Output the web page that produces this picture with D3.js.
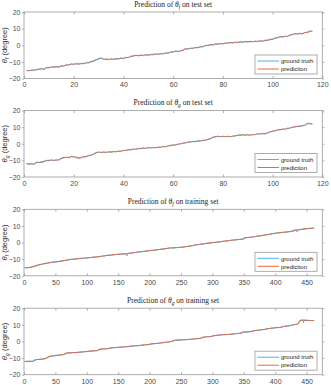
<!DOCTYPE html>
<html><head><meta charset="utf-8">
<script src="https://cdn.jsdelivr.net/npm/d3@7"></script>
<style>body{margin:0;background:#fff}svg{display:block}</style>
</head><body><svg id="c" width="331" height="385"></svg>
<script>
const yTicks = [-20, -10, 0, 10, 20];
const testXTicks = [0, 20, 40, 60, 80, 100, 120];
const trainXTicks = [0, 50, 100, 150, 200, 250, 300, 350, 400, 450];
const legendLabels = ["ground truth", "prediction"];
const angleNames = ["f", "g", "f", "g"];
const setNames = ["test set", "test set", "training set", "training set"];

const gtTestF = [-15.3,-15.2,-15.1,-14.9,-14.8,-14.3,-14.2,-14.4,-13.6,-13.4,
-13.2,-13.0,-13.0,-13.0,-12.6,-12.3,-12.0,-11.7,-11.4,-11.3,
-11.3,-11.2,-11.1,-10.9,-10.7,-10.4,-10.0,-9.4,-8.8,-8.0,
-7.8,-8.3,-8.5,-8.4,-8.4,-8.3,-8.2,-8.1,-7.9,-7.8,
-7.5,-7.2,-6.8,-6.3,-6.2,-6.2,-6.1,-6.0,-5.9,-5.8,
-5.7,-5.5,-5.4,-5.3,-5.2,-5.0,-4.8,-4.6,-4.2,-3.9,
-3.7,-3.6,-3.5,-2.8,-2.2,-2.1,-2.0,-1.7,-1.5,-1.3,
-1.0,-0.7,-0.3,0.0,0.2,0.4,0.6,0.8,0.9,1.0,
1.2,1.4,1.5,1.6,1.7,1.8,1.9,2.0,2.1,2.2,
2.2,2.3,2.3,2.4,2.5,2.6,2.8,3.1,3.4,3.7,
4.2,4.7,5.0,5.2,5.3,5.4,6.0,6.6,6.8,6.9,
7.0,7.1,7.5,7.9,8.3,8.6];
const predTestF = [-15.0,-15.4,-14.9,-15.1,-14.5,-14.6,-13.9,-14.7,-13.3,-13.7,
-12.9,-13.3,-12.7,-13.2,-12.3,-12.6,-11.6,-12.0,-11.1,-11.6,
-11.0,-11.5,-10.8,-11.2,-10.4,-10.7,-9.6,-9.8,-8.6,-8.4,
-7.5,-8.6,-8.2,-8.7,-8.1,-8.6,-7.9,-8.4,-7.6,-8.1,
-7.2,-7.5,-6.5,-6.6,-5.9,-6.5,-5.8,-6.3,-5.6,-6.1,
-5.4,-5.8,-5.1,-5.6,-4.9,-5.3,-4.5,-4.9,-3.9,-4.2,
-3.4,-3.9,-3.2,-3.1,-1.9,-2.4,-1.7,-2.0,-1.2,-1.6,
-0.7,-1.0,0.0,-0.3,0.5,0.1,0.9,0.5,1.2,0.7,
1.5,1.1,1.8,1.3,2.0,1.5,2.2,1.7,2.4,1.9,
2.5,2.0,2.6,2.1,2.8,2.3,3.1,2.8,3.7,3.4,
4.5,4.4,5.3,4.9,5.6,5.1,6.3,6.3,7.1,6.6,
7.3,6.8,7.8,7.6,8.6,8.3];

const gtTestG = [-12.0,-12.1,-12.2,-12.2,-11.3,-11.2,-11.2,-10.6,-10.2,-10.0,
-9.9,-9.9,-9.9,-9.6,-8.9,-8.2,-8.3,-8.2,-7.8,-7.8,
-8.0,-8.3,-8.1,-7.9,-7.6,-7.2,-6.8,-6.3,-5.3,-5.1,
-5.1,-5.1,-5.1,-5.0,-4.9,-4.8,-4.7,-4.6,-4.4,-4.1,
-3.9,-3.7,-3.5,-3.3,-3.2,-3.0,-2.8,-2.7,-2.6,-2.4,
-2.4,-2.4,-2.3,-2.1,-2.0,-1.8,-1.7,-1.3,-1.0,-0.8,
-0.6,-0.3,0.0,0.3,0.6,0.9,1.2,1.3,1.4,1.6,
1.8,2.0,2.2,2.6,3.2,3.8,4.3,4.4,4.4,4.4,
4.4,4.4,4.4,4.5,4.8,5.1,5.2,5.3,5.3,5.3,
5.3,5.4,5.6,5.9,6.0,6.1,6.1,6.5,7.2,7.5,
7.8,8.3,8.5,8.7,8.9,9.2,9.5,9.9,10.2,10.4,
10.6,10.7,11.3,12.0,12.0,11.8];
const predTestG = [-11.8,-12.3,-12.0,-12.4,-11.0,-11.5,-10.9,-10.9,-9.9,-10.3,
-9.7,-10.1,-9.6,-9.9,-8.6,-8.5,-8.0,-8.5,-7.5,-8.0,
-8.4,-9.0,-8.5,-7.7,-7.9,-6.9,-7.1,-6.0,-5.7,-4.9,
-5.4,-4.9,-5.3,-4.8,-5.2,-4.6,-5.0,-4.3,-4.7,-3.9,
-4.1,-3.5,-3.8,-3.0,-3.4,-2.8,-3.0,-2.5,-2.9,-2.2,
-2.6,-2.1,-2.6,-1.9,-2.3,-1.5,-2.0,-1.1,-1.3,-0.6,
-0.8,-0.1,-0.2,0.5,0.4,1.1,1.0,1.5,1.2,1.8,
1.6,2.2,2.0,2.8,3.0,4.0,4.1,4.6,4.2,4.6,
4.2,4.6,4.2,4.7,4.6,5.3,5.0,5.5,5.1,5.5,
5.1,5.6,5.4,6.1,5.8,6.3,5.9,6.7,7.0,7.7,
7.6,8.5,8.3,8.9,8.7,9.4,9.3,10.1,10.0,10.6,
10.4,10.9,11.1,12.4,12.2,11.9];

const gtTrainF = [-15.2,-15.2,-15.2,-15.1,-15.1,-15.1,-15.1,-15.0,-15.0,-15.0,
-14.8,-14.8,-14.7,-14.6,-14.5,-14.4,-14.3,-14.2,-14.0,-14.0,
-13.7,-13.6,-13.5,-13.4,-13.3,-13.2,-13.2,-13.1,-13.0,-12.9,
-12.8,-12.8,-12.7,-12.6,-12.5,-12.5,-12.4,-12.3,-12.2,-12.2,
-12.0,-12.0,-12.0,-11.9,-11.9,-11.8,-11.8,-11.8,-11.7,-11.7,
-11.6,-11.6,-11.5,-11.5,-11.4,-11.4,-11.3,-11.3,-11.2,-11.2,
-11.0,-11.0,-10.9,-10.9,-10.8,-10.7,-10.7,-10.6,-10.5,-10.5,
-10.3,-10.3,-10.2,-10.2,-10.1,-10.1,-10.1,-10.0,-10.0,-10.0,
-9.9,-9.9,-9.8,-9.8,-9.8,-9.7,-9.7,-9.7,-9.6,-9.6,
-9.5,-9.5,-9.5,-9.4,-9.4,-9.4,-9.4,-9.3,-9.3,-9.3,
-9.2,-9.2,-9.1,-9.1,-9.0,-9.0,-9.0,-8.9,-8.9,-8.9,
-8.8,-8.8,-8.7,-8.7,-8.7,-8.6,-8.6,-8.6,-8.5,-8.5,
-8.4,-8.3,-8.3,-8.2,-8.2,-8.1,-8.1,-8.0,-8.0,-7.9,
-7.8,-7.8,-7.7,-7.7,-7.7,-7.6,-7.6,-7.6,-7.5,-7.5,
-7.4,-7.4,-7.3,-7.3,-7.3,-7.2,-7.2,-7.2,-7.1,-7.1,
-7.0,-7.0,-7.0,-7.0,-6.9,-6.9,-6.9,-6.9,-6.8,-6.8,
-6.7,-6.7,-6.7,-6.6,-6.6,-6.6,-6.5,-6.5,-6.4,-6.4,
-6.3,-6.3,-6.2,-6.2,-6.1,-6.0,-6.0,-5.9,-5.9,-5.8,
-5.7,-5.7,-5.7,-5.6,-5.6,-5.6,-5.5,-5.5,-5.4,-5.4,
-5.3,-5.3,-5.2,-5.2,-5.1,-5.1,-5.0,-5.0,-4.9,-4.9,
-4.8,-4.8,-4.7,-4.7,-4.7,-4.6,-4.6,-4.6,-4.5,-4.5,
-4.4,-4.4,-4.3,-4.3,-4.2,-4.2,-4.1,-4.1,-4.0,-4.0,
-3.9,-3.9,-3.8,-3.8,-3.7,-3.7,-3.6,-3.5,-3.5,-3.4,
-3.3,-3.3,-3.3,-3.3,-3.3,-3.2,-3.2,-3.2,-3.2,-3.2,
-3.1,-3.1,-3.1,-3.0,-3.0,-3.0,-3.0,-2.9,-2.9,-2.9,
-2.8,-2.8,-2.7,-2.7,-2.6,-2.6,-2.5,-2.5,-2.4,-2.4,
-2.3,-2.3,-2.2,-2.2,-2.1,-2.0,-2.0,-1.9,-1.9,-1.8,
-1.6,-1.6,-1.5,-1.5,-1.4,-1.3,-1.3,-1.2,-1.2,-1.1,
-1.0,-1.0,-0.9,-0.9,-0.8,-0.8,-0.7,-0.7,-0.6,-0.6,
-0.5,-0.5,-0.4,-0.4,-0.3,-0.3,-0.2,-0.2,-0.1,-0.1,
0.0,0.0,0.0,0.1,0.1,0.1,0.2,0.2,0.3,0.3,
0.4,0.4,0.5,0.5,0.6,0.6,0.7,0.7,0.8,0.8,
0.9,0.9,1.0,1.0,1.1,1.1,1.2,1.2,1.3,1.3,
1.4,1.4,1.5,1.5,1.5,1.6,1.6,1.6,1.7,1.7,
1.8,1.8,1.8,1.9,1.9,1.9,2.0,2.0,2.2,2.3,
2.8,2.8,2.9,2.9,2.9,3.0,3.0,3.0,3.1,3.1,
3.2,3.2,3.3,3.3,3.4,3.5,3.5,3.6,3.6,3.7,
3.8,3.8,3.9,3.9,4.0,4.0,4.1,4.1,4.2,4.2,
4.4,4.4,4.5,4.5,4.6,4.6,4.7,4.8,4.8,4.9,
5.0,5.0,5.1,5.1,5.2,5.3,5.3,5.4,5.4,5.5,
5.7,5.7,5.7,5.8,5.8,5.8,5.9,5.9,6.0,6.0,
6.1,6.1,6.1,6.2,6.2,6.2,6.3,6.3,6.4,6.4,
6.5,6.5,6.6,6.6,6.7,6.8,6.9,6.9,7.0,7.1,
7.4,7.4,7.5,7.5,7.6,7.6,7.7,7.7,7.8,7.8,
7.9,7.9,8.0,8.0,8.1,8.1,8.2,8.2,8.3,8.3,
8.4,8.4,8.4,8.5,8.5,8.5,8.5,8.6,8.6,8.6,
8.7,8.7];
const predTrainF = [-14.9,-15.3,-15.0,-15.4,-14.8,-15.2,-14.9,-15.3,-14.8,-15.1,
-14.5,-14.9,-14.3,-14.8,-14.1,-14.6,-13.9,-14.4,-13.6,-14.1,
-13.4,-13.8,-13.1,-13.6,-12.9,-13.4,-12.8,-13.3,-12.7,-13.1,
-12.5,-12.9,-12.4,-12.8,-12.2,-12.7,-12.1,-12.5,-11.9,-12.4,
-11.7,-12.2,-11.8,-12.1,-11.6,-12.0,-11.5,-11.9,-11.4,-11.9,
-11.3,-11.8,-11.2,-11.7,-11.1,-11.6,-11.0,-11.5,-10.9,-11.4,
-10.7,-11.2,-10.6,-11.1,-10.5,-10.9,-10.4,-10.8,-10.2,-10.7,
-10.0,-10.5,-9.9,-10.4,-9.8,-10.3,-9.8,-10.2,-9.7,-10.2,
-9.6,-10.1,-9.5,-10.0,-9.5,-9.9,-9.4,-9.9,-9.3,-9.8,
-9.2,-9.7,-9.2,-9.6,-9.1,-9.6,-9.1,-9.5,-9.0,-9.5,
-8.9,-9.4,-8.8,-9.3,-8.7,-9.2,-8.7,-9.1,-8.6,-9.1,
-8.5,-9.0,-8.4,-8.9,-8.4,-8.8,-8.3,-8.8,-8.2,-8.7,
-8.1,-8.5,-8.0,-8.4,-7.9,-8.3,-7.8,-8.2,-7.7,-8.1,
-7.5,-8.0,-7.4,-7.9,-7.4,-7.8,-7.3,-7.8,-7.2,-7.7,
-7.1,-7.6,-7.0,-7.5,-7.0,-7.4,-6.9,-7.4,-6.8,-7.3,
-6.7,-7.2,-6.7,-7.2,-6.6,-7.1,-6.6,-7.1,-6.5,-7.0,
-6.4,-6.9,-7.6,-8.1,-6.3,-6.8,-6.2,-6.7,-6.1,-6.6,
-6.0,-6.5,-5.9,-6.4,-5.8,-6.2,-5.7,-6.1,-5.6,-6.0,
-5.4,-5.9,-5.4,-5.8,-5.3,-5.8,-5.2,-5.7,-5.1,-5.6,
-5.0,-5.5,-4.9,-5.4,-4.8,-5.3,-4.7,-5.2,-4.6,-5.1,
-4.5,-5.0,-4.4,-4.9,-4.4,-4.8,-4.3,-4.8,-4.2,-4.7,
-4.1,-4.6,-4.0,-4.5,-3.9,-4.4,-3.8,-4.3,-3.7,-4.2,
-3.6,-4.1,-3.5,-4.0,-3.4,-3.9,-3.3,-3.7,-3.2,-3.6,
-3.0,-3.5,-3.0,-3.5,-3.0,-3.4,-2.9,-3.4,-2.9,-3.4,
-2.8,-3.3,-2.8,-3.2,-2.7,-3.2,-2.7,-3.1,-2.6,-3.1,
-2.5,-3.0,-2.4,-2.9,-2.3,-2.8,-2.2,-2.7,-2.1,-2.6,
-2.0,-2.5,-1.9,-2.4,-1.8,-2.2,-1.7,-2.1,-1.6,-2.0,
-1.3,-1.8,-1.2,-1.7,-1.1,-1.5,-1.0,-1.4,-0.9,-1.3,
-0.7,-1.2,-0.6,-1.1,-0.5,-1.0,-0.4,-0.9,-0.3,-0.8,
-0.2,-0.7,-0.1,-0.6,0.0,-0.5,0.1,-0.4,0.2,-0.3,
0.3,-0.2,0.3,-0.1,0.4,-0.1,0.5,0.0,0.6,0.1,
0.7,0.2,0.8,0.3,0.9,0.4,1.0,0.5,1.1,0.6,
1.2,0.7,1.3,0.8,1.4,0.9,1.5,1.0,1.6,1.1,
1.7,1.2,1.8,1.3,1.8,1.4,1.9,1.4,2.0,1.5,
2.1,1.6,2.1,1.7,2.2,1.7,2.3,1.8,2.5,2.1,
3.1,2.6,3.2,2.7,3.2,2.8,3.3,2.8,3.4,2.9,
3.5,3.0,3.6,3.1,3.7,3.3,3.8,3.4,3.9,3.5,
4.1,3.6,4.2,3.7,4.3,3.8,4.4,3.9,4.5,4.0,
4.7,4.2,4.8,4.3,4.9,4.4,5.0,4.6,5.1,4.7,
5.3,4.8,5.4,4.9,5.5,5.1,5.6,5.2,5.7,5.3,
6.0,5.5,6.0,5.6,6.1,5.6,6.2,5.7,6.3,5.8,
6.4,5.9,6.4,6.0,6.5,6.0,6.6,6.1,6.7,6.2,
6.8,6.3,6.9,6.4,7.0,6.6,7.2,6.7,7.3,6.9,
7.7,7.2,7.8,7.3,6.4,7.4,8.0,7.5,8.1,7.6,
8.2,7.7,8.3,7.8,8.4,7.9,8.5,8.0,8.6,8.1,
8.7,8.2,8.7,8.3,8.8,8.3,8.8,8.4,8.9,8.4,
8.9,8.6];

const gtTrainG = [-12.1,-12.1,-12.1,-12.0,-12.0,-12.0,-12.0,-12.0,-12.0,-12.0,
-12.0,-12.0,-12.0,-11.9,-11.9,-11.6,-11.3,-11.1,-11.0,-11.0,
-11.0,-10.9,-10.9,-10.8,-10.8,-10.8,-10.7,-10.7,-10.6,-10.6,
-10.6,-10.5,-10.4,-10.3,-10.1,-9.9,-9.7,-9.5,-9.3,-9.2,
-9.0,-9.0,-8.9,-8.8,-8.8,-8.7,-8.6,-8.6,-8.5,-8.5,
-8.4,-8.4,-8.4,-8.3,-8.3,-8.2,-8.2,-8.1,-8.1,-8.0,
-8.0,-8.0,-8.0,-7.8,-7.5,-7.3,-7.1,-7.0,-7.0,-7.0,
-6.9,-6.9,-6.9,-6.9,-6.8,-6.8,-6.8,-6.8,-6.8,-6.7,
-6.7,-6.7,-6.7,-6.6,-6.6,-6.6,-6.5,-6.5,-6.5,-6.4,
-6.4,-6.4,-6.3,-6.3,-6.3,-6.2,-6.2,-6.1,-6.1,-6.0,
-6.0,-6.0,-5.9,-5.9,-5.9,-5.8,-5.8,-5.8,-5.7,-5.7,
-5.7,-5.7,-5.6,-5.6,-5.6,-5.6,-5.5,-5.3,-5.0,-4.8,
-4.7,-4.6,-4.6,-4.6,-4.5,-4.5,-4.5,-4.5,-4.5,-4.4,
-4.4,-4.4,-4.3,-4.3,-4.2,-4.1,-4.0,-4.0,-3.9,-3.9,
-3.8,-3.8,-3.8,-3.7,-3.7,-3.7,-3.6,-3.6,-3.6,-3.6,
-3.5,-3.5,-3.5,-3.4,-3.4,-3.4,-3.4,-3.3,-3.3,-3.3,
-3.3,-3.2,-3.2,-3.2,-3.2,-3.1,-3.0,-2.9,-2.9,-2.8,
-2.8,-2.8,-2.8,-2.7,-2.7,-2.7,-2.7,-2.6,-2.6,-2.6,
-2.6,-2.5,-2.5,-2.4,-2.4,-2.3,-2.3,-2.2,-2.2,-2.2,
-2.1,-2.1,-2.1,-2.0,-2.0,-2.0,-2.0,-1.9,-1.8,-1.7,
-1.6,-1.6,-1.5,-1.5,-1.4,-1.4,-1.3,-1.3,-1.3,-1.2,
-1.2,-1.2,-1.2,-1.1,-1.1,-1.0,-1.0,-0.9,-0.8,-0.8,
-0.7,-0.7,-0.6,-0.6,-0.5,-0.5,-0.5,-0.4,-0.4,-0.4,
-0.3,-0.2,-0.2,-0.1,0.0,0.1,0.3,0.5,0.6,0.7,
0.7,0.7,0.8,0.8,0.8,0.8,0.8,0.8,0.9,0.9,
0.9,0.9,1.0,1.0,1.0,1.0,1.1,1.1,1.1,1.1,
1.2,1.2,1.2,1.2,1.3,1.3,1.3,1.4,1.4,1.5,
1.5,1.5,1.6,1.6,1.6,1.7,1.7,1.7,1.8,1.8,
1.9,1.9,2.1,2.3,2.5,2.6,2.6,2.7,2.7,2.7,
2.7,2.8,2.8,2.8,2.8,2.9,2.9,3.0,3.1,3.2,
3.3,3.4,3.5,3.5,3.6,3.6,3.7,3.7,3.7,3.8,
3.8,3.8,3.9,3.9,3.9,4.0,4.0,4.0,4.1,4.1,
4.1,4.1,4.2,4.2,4.2,4.2,4.2,4.3,4.3,4.3,
4.4,4.4,4.5,4.5,4.6,4.6,4.6,4.7,4.7,4.8,
4.8,4.8,4.9,4.9,5.0,5.1,5.3,5.5,5.6,5.6,
5.6,5.6,5.7,5.7,5.7,5.7,5.8,5.8,5.8,5.9,
5.9,6.0,6.1,6.2,6.3,6.4,6.5,6.5,6.6,6.6,
6.7,6.7,6.7,6.8,6.8,6.9,6.9,7.0,7.0,7.1,
7.1,7.2,7.2,7.3,7.4,7.5,7.6,7.6,7.7,7.7,
7.8,7.8,7.9,7.9,8.0,8.0,8.0,8.1,8.1,8.2,
8.2,8.3,8.3,8.3,8.4,8.4,8.4,8.5,8.5,8.6,
8.7,8.8,8.9,9.0,9.1,9.1,9.2,9.2,9.3,9.3,
9.3,9.4,9.4,9.5,9.6,9.7,9.8,9.9,10.0,10.1,
10.1,10.2,10.2,10.3,10.4,10.6,11.0,11.6,12.2,12.6,
12.7,12.7,12.8,12.8,12.8,12.8,12.7,12.7,12.7,12.7,
12.7,12.7,12.6,12.6,12.6,12.6,12.6,12.6,12.6,12.6,
12.6,12.6];
const predTrainG = [-11.8,-12.3,-11.9,-12.2,-11.7,-12.1,-11.9,-12.3,-11.8,-12.1,
-11.7,-12.2,-11.8,-12.0,-11.6,-11.4,-11.0,-11.3,-10.7,-11.2,
-10.7,-11.1,-10.6,-11.0,-10.5,-10.9,-10.4,-10.9,-10.3,-10.8,
-10.3,-10.7,-10.1,-10.5,-9.8,-10.1,-9.4,-9.7,-9.0,-9.4,
-8.7,-9.2,-8.6,-9.0,-8.5,-8.9,-8.3,-8.8,-8.2,-8.7,
-8.1,-8.6,-8.1,-8.5,-8.0,-8.4,-7.9,-8.3,-7.8,-8.2,
-7.7,-8.2,-7.7,-8.0,-7.2,-7.5,-6.8,-7.2,-6.7,-7.2,
-6.6,-7.1,-6.6,-7.1,-6.5,-7.0,-6.5,-7.0,-6.5,-6.9,
-6.4,-6.9,-6.4,-6.8,-6.3,-6.8,-6.2,-6.7,-6.2,-6.6,
-6.1,-6.6,-6.0,-6.5,-6.0,-6.4,-5.9,-6.3,-5.8,-6.2,
-5.7,-6.2,-5.6,-6.1,-5.6,-6.0,-5.5,-6.0,-5.4,-5.9,
-5.4,-5.9,-5.3,-5.8,-5.3,-5.8,-5.2,-5.5,-4.7,-5.0,
-4.4,-4.8,-4.3,-4.8,-4.2,-4.7,-4.2,-4.7,-4.2,-4.6,
-4.1,-4.6,-4.0,-4.5,-3.9,-4.3,-3.7,-4.2,-3.6,-4.1,
-3.5,-4.0,-3.5,-3.9,-3.4,-3.9,-3.3,-3.8,-3.3,-3.8,
-3.2,-3.7,-3.2,-3.6,-3.1,-3.6,-3.1,-3.5,-3.0,-3.5,
-3.0,-3.4,-2.9,-3.4,-2.9,-3.3,-2.7,-3.1,-2.6,-3.0,
-2.5,-3.0,-2.5,-2.9,-2.4,-2.9,-2.4,-2.8,-2.3,-2.8,
-2.3,-2.7,-2.2,-2.6,-2.1,-2.5,-2.0,-2.4,-1.9,-2.4,
-1.8,-2.3,-1.8,-2.2,-1.7,-2.2,-1.7,-2.1,-1.5,-1.9,
-1.3,-1.8,-1.2,-1.7,-1.1,-1.6,-1.0,-1.5,-1.0,-1.4,
-0.9,-1.4,-0.9,-1.3,-0.8,-1.2,-0.7,-1.1,-0.5,-1.0,
-0.4,-0.9,-0.3,-0.8,-0.2,-0.7,-0.2,-0.6,-0.1,-0.6,
0.0,-0.4,0.1,-0.3,0.3,-0.1,0.6,0.3,0.9,0.5,
1.0,0.5,1.1,0.6,1.1,0.6,1.1,0.6,1.2,0.7,
1.2,0.7,1.3,0.8,1.3,0.8,1.4,0.9,1.4,0.9,
1.5,1.0,1.5,1.0,1.6,1.1,1.6,1.2,1.7,1.3,
1.8,1.3,1.9,1.4,1.9,1.5,2.0,1.5,2.1,1.6,
2.2,1.7,2.4,2.1,2.8,2.4,2.9,2.5,3.0,2.5,
3.0,2.6,3.1,2.6,3.1,2.7,3.2,2.8,3.4,3.0,
3.6,3.2,3.8,3.3,3.9,3.4,4.0,3.5,4.0,3.6,
4.1,3.6,4.2,3.7,4.2,3.8,4.3,3.8,4.4,3.9,
4.4,3.9,4.5,4.0,4.5,4.0,4.5,4.1,4.6,4.1,
4.7,4.2,4.8,4.3,4.9,4.4,4.9,4.5,5.0,4.6,
5.1,4.6,5.2,4.7,5.3,4.9,5.6,5.3,5.9,5.4,
5.9,5.4,6.0,5.5,6.0,5.5,6.1,5.6,6.1,5.7,
6.2,5.8,6.4,6.0,6.6,6.2,6.8,6.3,6.9,6.4,
7.0,6.5,7.0,6.6,7.1,6.7,7.2,6.8,7.3,6.9,
7.4,7.0,7.5,7.1,7.7,7.3,7.9,7.4,8.0,7.5,
8.1,7.6,8.2,7.7,8.3,7.8,8.3,7.9,8.4,8.0,
8.5,8.1,8.6,8.1,8.7,8.2,8.7,8.3,8.8,8.4,
9.0,8.6,9.2,8.8,9.4,8.9,9.5,9.0,9.6,9.1,
9.6,9.2,9.7,9.3,9.9,9.5,10.1,9.7,10.3,9.9,
10.4,10.0,10.5,10.1,10.7,10.4,11.3,11.4,12.5,12.4,
13.0,12.5,13.1,12.6,11.2,12.6,13.0,12.5,13.0,12.5,
13.0,12.5,12.9,12.4,12.9,12.4,12.9,12.4,12.9,12.4,
12.9,12.5];

const panels = [
  {gt: gtTestF, pred: predTestF, xTicks: testXTicks, xMax: 120},
  {gt: gtTestG, pred: predTestG, xTicks: testXTicks, xMax: 120},
  {gt: gtTrainF, pred: predTrainF, xTicks: trainXTicks, xMax: 475},
  {gt: gtTrainG, pred: predTrainG, xTicks: trainXTicks, xMax: 475}
];

const colGT = "#4DB4E8", colPred = "#E86A3C";
const axisCol = "#9a9a9a", textCol = "#4a4a4a";
const L = 24, R = 322.3, H = 66.5;
const tops = [12, 110.5, 209.3, 308.2];
const svg = d3.select("#c");

panels.forEach((p, k) => {
  const top = tops[k], bot = top + H;
  const x = d3.scaleLinear().domain([0, p.xMax]).range([L, R]);
  const y = d3.scaleLinear().domain([-20, 20]).range([bot, top]);
  const g = svg.append("g");

  const ax = g.append("g").attr("transform", `translate(0,${bot})`)
    .call(d3.axisBottom(x).tickValues(p.xTicks).tickSize(-2.5).tickPadding(4));
  const axT = g.append("g").attr("transform", `translate(0,${top})`)
    .call(d3.axisTop(x).tickValues(p.xTicks).tickSize(-2.5).tickFormat(""));
  const ayL = g.append("g").attr("transform", `translate(${L},0)`)
    .call(d3.axisLeft(y).tickValues(yTicks).tickSize(2).tickPadding(1.5));
  const ayR = g.append("g").attr("transform", `translate(${R},0)`)
    .call(d3.axisRight(y).tickValues(yTicks).tickSize(2).tickFormat(""));
  [ax, axT, ayL, ayR].forEach(a => {
    a.select(".domain").remove();
    a.selectAll("line").attr("stroke", axisCol).attr("stroke-width", 0.8);
    a.selectAll("text").attr("fill", textCol).style("font-family", "Liberation Sans, Arial, sans-serif").style("font-size", "7px");
  });
  ax.selectAll("text").attr("dy", "0.71em");

  g.append("rect").attr("x", L).attr("y", top).attr("width", R - L).attr("height", H)
    .attr("fill", "none").attr("stroke", axisCol).attr("stroke-width", 0.8);

  const line = d3.line().x((d, i) => x(i + 1)).y(d => y(d));
  g.append("path").datum(p.gt).attr("d", line).attr("fill", "none")
    .attr("stroke", colGT).attr("stroke-width", 1.1);
  g.append("path").datum(p.pred).attr("d", line).attr("fill", "none")
    .attr("stroke", colPred).attr("stroke-width", 0.8);

  const t = g.append("text").attr("x", (L + R) / 2).attr("y", top - 5.5)
    .attr("text-anchor", "middle").attr("fill", "#222")
    .style("font-family", "Liberation Serif, Times New Roman, serif").style("font-size", "7.5px");
  t.append("tspan").text("Prediction of ");
  t.append("tspan").text("\u03B8").style("font-style", "italic");
  t.append("tspan").text(angleNames[k]).attr("dy", 2).style("font-size", "5.5px").style("font-style", "italic");
  t.append("tspan").text(" on " + setNames[k]).attr("dy", -2);

  const yl = g.append("text").attr("transform", `translate(7,${(top + bot) / 2}) rotate(-90)`)
    .attr("text-anchor", "middle").attr("fill", "#333")
    .style("font-family", "Liberation Sans, Arial, sans-serif").style("font-size", "7.5px");
  yl.append("tspan").text("\u03B8").style("font-style", "italic");
  yl.append("tspan").text(angleNames[k]).attr("dy", 2).style("font-size", "5.5px").style("font-style", "italic");
  yl.append("tspan").text(" (degree)").attr("dy", -2);

  const lg = g.append("g");
  lg.append("rect").attr("x", 255).attr("y", top + 43).attr("width", 62).attr("height", 19)
    .attr("fill", "#fff").attr("stroke", axisCol).attr("stroke-width", 0.8);
  [colGT, colPred].forEach((c, i) => {
    const yy = top + 49 + i * 8;
    lg.append("line").attr("x1", 257.5).attr("x2", 279).attr("y1", yy).attr("y2", yy)
      .attr("stroke", c).attr("stroke-width", 1);
    lg.append("text").attr("x", 281).attr("y", yy + 2.2).text(legendLabels[i])
      .attr("fill", "#222").style("font-family", "Liberation Sans, Arial, sans-serif").style("font-size", "6px");
  });
});
</script>
</body></html>
